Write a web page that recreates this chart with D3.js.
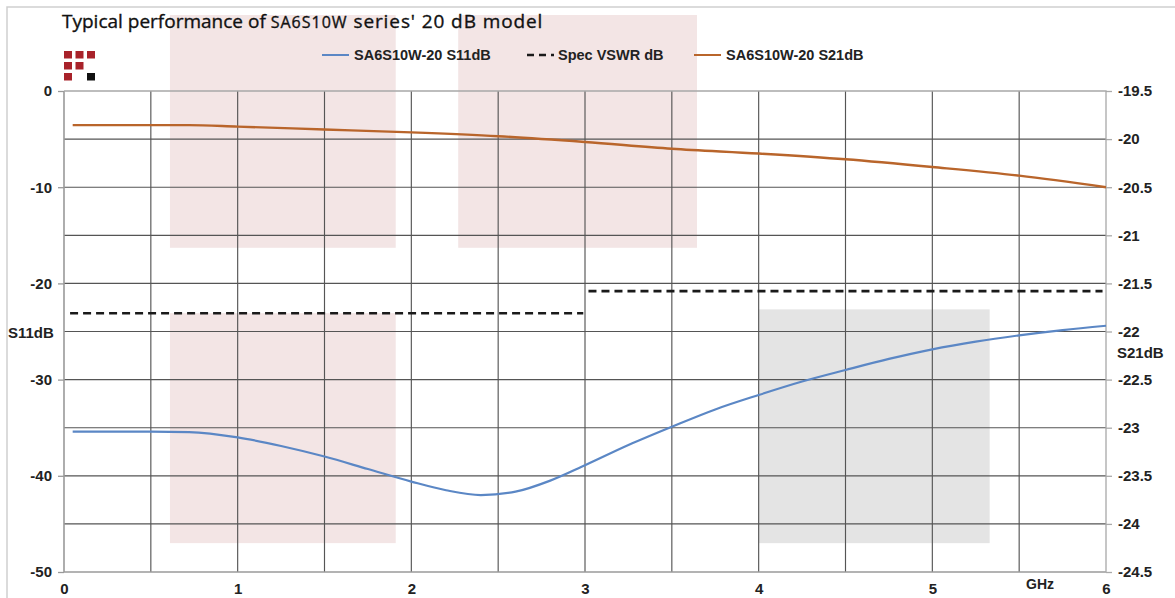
<!DOCTYPE html>
<html>
<head>
<meta charset="utf-8">
<script src="https://cdn.jsdelivr.net/npm/d3@7"></script>
<style>
  body { margin: 0; background: #fff; }
  svg { display: block; }
  .lbl { font-family: "Liberation Sans", Arial, sans-serif; font-weight: bold; fill: #222; }
</style>
</head>
<body>
<div id="chart"></div>
<script>
// ---- data ----
const freqGHz = [0.05, 0.25, 0.5, 0.72, 1.0, 1.25, 1.5, 1.75, 2.0, 2.2, 2.4, 2.6, 2.8, 3.0,
                 3.25, 3.5, 3.75, 4.0, 4.25, 4.5, 4.75, 5.0, 5.25, 5.5, 5.75, 6.0];
const s11dB = [-35.4, -35.4, -35.4, -35.45, -36.0, -36.9, -38.0, -39.3, -40.6, -41.5, -42.0, -41.65, -40.5, -38.9,
               -36.8, -34.9, -33.1, -31.6, -30.2, -29.0, -27.85, -26.85, -26.05, -25.4, -24.85, -24.4];

const s21Freq = [0.05, 0.72, 1.0, 1.5, 2.0, 2.5, 3.0, 3.5, 4.0, 4.5, 5.0, 5.5, 6.0];
const s21dB = [-19.855, -19.855, -19.87, -19.90, -19.93, -19.97, -20.03, -20.1, -20.15, -20.21, -20.29, -20.38, -20.5];

// spec VSWR limit, stepwise (start GHz, end GHz, dB)
const specStart = [0.035, 3.02];
const specEnd = [2.99, 5.98];
const specdB = [-23.1, -20.8];

const xTicks = [0, 1, 2, 3, 4, 5, 6];
const leftTicks = [0, -10, -20, -30, -40, -50];
const rightTicks = [-19.5, -20, -20.5, -21, -21.5, -22, -22.5, -23, -23.5, -24, -24.5];

// background highlight boxes (GHz range, S11 dB range)
const boxes = [
    { x0: 0.61, x1: 1.91, y0: 7.9, y1: -16.3, color: '#f3e5e5' },
    { x0: 2.27, x1: 3.645, y0: 7.9, y1: -16.3, color: '#f3e5e5' },
    { x0: 0.61, x1: 1.91, y0: -23.1, y1: -47.0, color: '#f3e5e5' },
    { x0: 4.0, x1: 5.33, y0: -22.7, y1: -47.0, color: '#e4e4e4' }
];

const legendItems = [
    { name: 'SA6S10W-20 S11dB', color: '#5b87c5', dash: null, x: 322 },
    { name: 'Spec VSWR dB', color: '#1a1a1a', dash: '7,5', x: 527 },
    { name: 'SA6S10W-20 S21dB', color: '#b9652b', dash: null, x: 694 }
];

// ---- layout ----
const width = 1175, height = 598;
const plot = { left: 64, right: 1106, top: 91, bottom: 572 };

const svg = d3.select('#chart').append('svg')
    .attr('width', width)
    .attr('height', height);

svg.append('rect').attr('width', width).attr('height', height).attr('fill', '#fff');

// outer frame (top and left visible)
svg.append('path')
    .attr('d', `M7,${height} V7 H${width}`)
    .attr('fill', 'none')
    .attr('stroke', '#cfcfcf')
    .attr('stroke-width', 1.5);

const x = d3.scaleLinear().domain([0, 6]).range([plot.left, plot.right]);
const yL = d3.scaleLinear().domain([-50, 0]).range([plot.bottom, plot.top]);
const yR = d3.scaleLinear().domain([-24.5, -19.5]).range([plot.bottom, plot.top]);

// boxes
svg.append('g').selectAll('rect')
    .data(boxes)
    .join('rect')
    .attr('x', d => x(d.x0))
    .attr('y', d => yL(d.y0))
    .attr('width', d => x(d.x1) - x(d.x0))
    .attr('height', d => yL(d.y1) - yL(d.y0))
    .attr('fill', d => d.color);

// grid
const grid = svg.append('g').attr('stroke', '#555').attr('stroke-width', 1.15);
grid.selectAll('line.v')
    .data(d3.range(0.5, 6, 0.5))
    .join('line')
    .attr('x1', d => x(d)).attr('x2', d => x(d))
    .attr('y1', plot.top).attr('y2', plot.bottom);
grid.selectAll('line.h')
    .data(d3.range(-5, -50, -5))
    .join('line')
    .attr('x1', plot.left).attr('x2', plot.right)
    .attr('y1', d => yL(d)).attr('y2', d => yL(d));

// axes
const styleAxis = (g, color) => {
    g.select('.domain').remove();
    g.selectAll('.tick line').attr('stroke', color).attr('stroke-width', 1.3);
    g.selectAll('.tick text')
        .attr('class', 'lbl')
        .style('font-size', '15px');
};

svg.append('g')
    .attr('transform', `translate(${plot.left},0)`)
    .call(d3.axisLeft(yL).tickValues(leftTicks).tickSize(6).tickPadding(6).tickFormat(d => String(d)))
    .call(g => styleAxis(g, '#999'));

svg.append('g')
    .attr('transform', `translate(${plot.right},0)`)
    .call(d3.axisRight(yR).tickValues(rightTicks).tickSize(6).tickPadding(6).tickFormat(d => String(d)))
    .call(g => styleAxis(g, '#aaa'));

svg.append('g')
    .attr('transform', `translate(0,${plot.bottom})`)
    .call(d3.axisBottom(x).tickValues(xTicks).tickSize(0).tickPadding(11).tickFormat(d => String(d)))
    .call(g => styleAxis(g, '#999'));

// plot frame lines
svg.append('path')
    .attr('d', `M${plot.left},${plot.top} V${plot.bottom} H${plot.right}`)
    .attr('fill', 'none').attr('stroke', '#9a9a9a').attr('stroke-width', 1.6);
svg.append('path')
    .attr('d', `M${plot.left},${plot.top} H${plot.right} V${plot.bottom}`)
    .attr('fill', 'none').attr('stroke', '#a8a8a8').attr('stroke-width', 1.3);

// axis titles
svg.append('text').attr('class', 'lbl').attr('x', 8).attr('y', 338)
    .style('font-size', '15px').text('S11dB');
svg.append('text').attr('class', 'lbl').attr('x', 1117).attr('y', 358)
    .style('font-size', '15px').text('S21dB');
svg.append('text').attr('class', 'lbl').attr('x', x(5.62)).attr('y', 589)
    .attr('text-anchor', 'middle').style('font-size', '14px').text('GHz');

// spec line
svg.append('g').selectAll('line')
    .data(specdB.map((v, i) => ({ x0: specStart[i], x1: specEnd[i], v })))
    .join('line')
    .attr('x1', d => x(d.x0)).attr('x2', d => x(d.x1))
    .attr('y1', d => yL(d.v)).attr('y2', d => yL(d.v))
    .attr('stroke', '#1a1a1a')
    .attr('stroke-width', 2.6)
    .attr('stroke-dasharray', '8,5');

// S11 curve (left axis)
const s11Line = d3.line()
    .x((d, i) => x(freqGHz[i]))
    .y(d => yL(d))
    .curve(d3.curveMonotoneX);
svg.append('path')
    .datum(s11dB)
    .attr('d', s11Line)
    .attr('fill', 'none')
    .attr('stroke', '#5b87c5')
    .attr('stroke-width', 2.2);

// S21 curve (right axis)
const s21Line = d3.line()
    .x((d, i) => x(s21Freq[i]))
    .y(d => yR(d))
    .curve(d3.curveMonotoneX);
svg.append('path')
    .datum(s21dB)
    .attr('d', s21Line)
    .attr('fill', 'none')
    .attr('stroke', '#b9652b')
    .attr('stroke-width', 2.4);

// title
const title = svg.append('text')
    .attr('x', 62).attr('y', 28)
    .style('font-family', '"Open Sans", sans-serif')
    .style('font-size', '19px')
    .style('font-weight', 500)
    .attr('fill', '#111')
    .attr('stroke', '#111')
    .attr('stroke-width', 0.35);
title.append('tspan').text('Typical performance of ');
title.append('tspan')
    .style('font-size', '16px')
    .style('letter-spacing', '1px')
    .text('SA6S10W');
title.append('tspan')
    .style('letter-spacing', '0.9px')
    .text(" series' 20 dB model");

// logo
const logoCells = [
    [0, 0, '#a8222a'], [1, 0, '#a8222a'], [2, 0, '#a8222a'],
    [0, 1, '#a8222a'], [1, 1, '#a8222a'],
    [0, 2, '#a8222a'], [2, 2, '#111']
];
svg.append('g').selectAll('rect')
    .data(logoCells)
    .join('rect')
    .attr('x', d => 64 + d[0] * 11.5)
    .attr('y', d => 51 + d[1] * 11)
    .attr('width', 8)
    .attr('height', 7.5)
    .attr('fill', d => d[2]);

// legend
const legend = svg.append('g').selectAll('g')
    .data(legendItems)
    .join('g')
    .attr('transform', d => `translate(${d.x},55)`);
legend.append('line')
    .attr('x1', 0).attr('x2', 27)
    .attr('stroke', d => d.color)
    .attr('stroke-width', d => d.dash ? 2.4 : 2)
    .attr('stroke-dasharray', d => d.dash);
legend.append('text')
    .attr('class', 'lbl')
    .attr('x', d => d.dash ? 31 : 32)
    .attr('y', 5)
    .style('font-size', '14.5px')
    .text(d => d.name);
</script>
</body>
</html>
